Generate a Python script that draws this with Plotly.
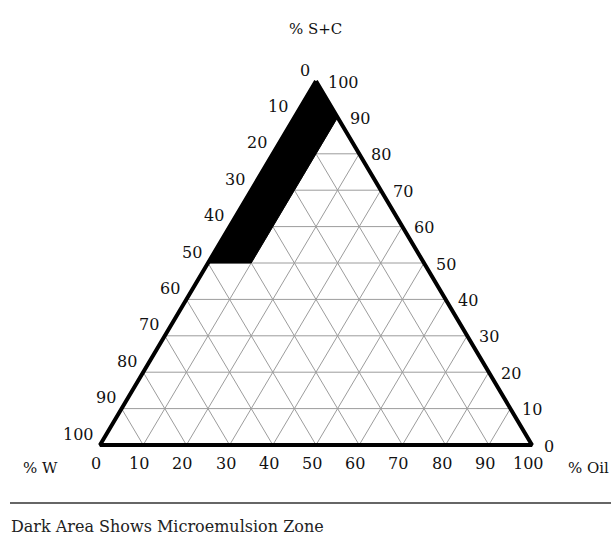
import plotly.graph_objects as go

# ---------------- data ----------------
tick_values = [0, 10, 20, 30, 40, 50, 60, 70, 80, 90, 100]
tick_labels = [str(v) for v in tick_values]

# Microemulsion (dark) zone vertices, in % of each component
zone_sc = [100, 50, 50, 90, 100]    # % S+C  (top vertex)
zone_w = [0, 50, 40, 0, 0]          # % W    (bottom-left vertex)
zone_oil = [0, 0, 10, 10, 0]        # % Oil  (bottom-right vertex)

axis_titles = {"top": "% S+C", "left": "% W", "right": "% Oil"}
caption = "Dark Area Shows Microemulsion Zone"

FONT = "DejaVu Serif"
W_PX, H_PX = 611, 538
# triangle placement in pixels
X0_PX, X1_PX = 100, 532      # left / right vertex x
YB_PX, YT_PX = 445, 81       # bottom / top vertex y (from top)
RULE_Y, CAPTION_Y = 503, 526


def tern(sc, oil):
    """ternary (S+C, Oil) -> cartesian data coords (W = 100 - S+C - Oil)"""
    return oil + sc / 2.0, sc


# ---------------- traces ----------------
gx, gy = [], []
for v in tick_values[1:-1]:
    # constant S+C
    for a, c in [(v, 0), (v, 100 - v)]:
        x, y = tern(a, c); gx.append(x); gy.append(y)
    gx.append(None); gy.append(None)
    # constant Oil
    for a, c in [(0, v), (100 - v, v)]:
        x, y = tern(a, c); gx.append(x); gy.append(y)
    gx.append(None); gy.append(None)
    # constant W
    for a, c in [(0, 100 - v), (100 - v, 0)]:
        x, y = tern(a, c); gx.append(x); gy.append(y)
    gx.append(None); gy.append(None)

fig = go.Figure()
fig.add_trace(go.Scatter(x=gx, y=gy, mode="lines",
                         line=dict(color="#9c9c9c", width=1),
                         hoverinfo="skip", showlegend=False))

zx, zy = zip(*[tern(a, c) for a, c in zip(zone_sc, zone_oil)])
fig.add_trace(go.Scatter(x=list(zx), y=list(zy), mode="lines", fill="toself",
                         fillcolor="black", line=dict(color="black", width=1),
                         name="Microemulsion zone", showlegend=False))

corners = [(100, 0), (0, 0), (0, 100), (100, 0)]
tx, ty = zip(*[tern(a, c) for a, c in corners])
fig.add_trace(go.Scatter(x=list(tx), y=list(ty), mode="lines",
                         line=dict(color="black", width=4),
                         hoverinfo="skip", showlegend=False))

# ---------------- tick labels ----------------
ann = []
tfont = dict(family=FONT, size=16, color="#111")
for v, t in zip(tick_values, tick_labels):
    # left edge: % W
    x, y = tern(100 - v, 0)
    ann.append(dict(x=x, y=y, text=t, showarrow=False, xanchor="right",
                    yanchor="middle", xshift=-4, yshift=11, font=tfont))
    # bottom edge: % Oil
    x, y = tern(0, v)
    ann.append(dict(x=x, y=y, text=t, showarrow=False, xanchor="center",
                    yanchor="middle", xshift=-4, yshift=-18, font=tfont))
    # right edge: % S+C
    x, y = tern(v, 100 - v)
    ann.append(dict(x=x, y=y, text=t, showarrow=False, xanchor="left",
                    yanchor="middle", xshift=10, yshift=-1, font=tfont))

titlefont = dict(family=FONT, size=15, color="#111")
ann.append(dict(xref="paper", yref="paper", x=315 / W_PX, y=1 - 29 / H_PX,
                text=axis_titles["top"], showarrow=False, font=titlefont,
                xanchor="center", yanchor="middle"))
ann.append(dict(xref="paper", yref="paper", x=21 / W_PX, y=1 - 468 / H_PX,
                text=axis_titles["left"], showarrow=False, font=titlefont,
                xanchor="left", yanchor="middle"))
ann.append(dict(xref="paper", yref="paper", x=1, y=1 - 468 / H_PX,
                text=axis_titles["right"], showarrow=False, font=titlefont,
                xanchor="right", yanchor="middle"))
ann.append(dict(xref="paper", yref="paper", x=9 / W_PX, y=1 - CAPTION_Y / H_PX,
                text=caption, showarrow=False,
                font=dict(family=FONT, size=16, color="#222"),
                xanchor="left", yanchor="middle"))

sx = (X1_PX - X0_PX) / 100.0
sy = (YB_PX - YT_PX) / 100.0
fig.update_layout(
    width=W_PX, height=H_PX,
    margin=dict(l=0, r=0, t=0, b=0),
    paper_bgcolor="white", plot_bgcolor="white",
    xaxis=dict(range=[-X0_PX / sx, (W_PX - X0_PX) / sx], visible=False,
               fixedrange=True),
    yaxis=dict(range=[-(H_PX - YB_PX) / sy, YB_PX / sy], visible=False,
               fixedrange=True),
    annotations=ann,
    shapes=[dict(type="line", xref="paper", yref="paper",
                 x0=10 / W_PX, x1=1, y0=1 - RULE_Y / H_PX, y1=1 - RULE_Y / H_PX,
                 line=dict(color="#333", width=1.5))],
)

fig.write_html("out.html",
               config={"displayModeBar": False},
               post_script="document.body.style.margin='0';"
                           "document.body.style.overflow='hidden';")
